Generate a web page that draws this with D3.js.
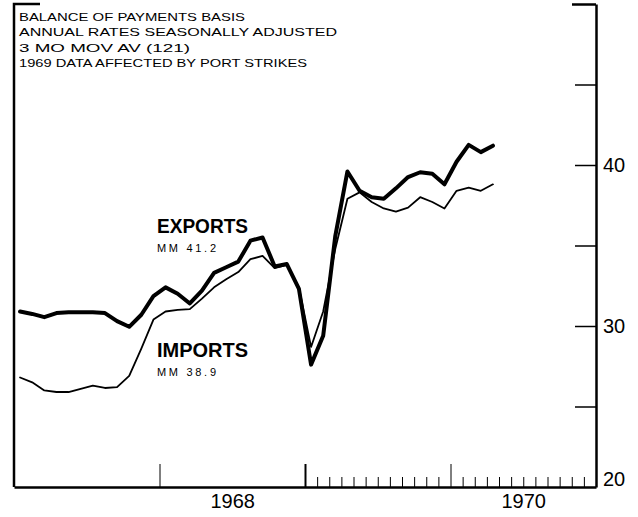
<!DOCTYPE html>
<meta charset="utf-8">
<style>
body { margin: 0; background: #fff; }
text { font-family: 'Liberation Sans', Arial, sans-serif; fill: #000; }
.axis path, .axis line { stroke: #000; }
.line { fill: none; stroke: #000; stroke-linejoin: round; stroke-linecap: round; }
</style>
<body>
<svg width="638" height="517"></svg>
<script src="https://cdnjs.cloudflare.com/ajax/libs/d3/7.8.5/d3.min.js"></script>
<script>

// monthly values, Jan 1967 .. Apr 1970 ($ billions, annual rate)
var exportsVals = [30.9, 30.75, 30.55, 30.8, 30.85, 30.85, 30.85, 30.8, 30.3, 29.95, 30.7, 31.85,
                   32.4, 32.0, 31.4, 32.2, 33.3, 33.65, 34.0, 35.3, 35.5, 33.7, 33.85, 32.3,
                   27.6, 29.4, 35.6, 39.6, 38.4, 38.0, 37.9, 38.55, 39.25, 39.55, 39.45, 38.8,
                   40.2, 41.25, 40.8, 41.2];
var importsVals = [26.8, 26.5, 26.0, 25.9, 25.9, 26.1, 26.3, 26.15, 26.2, 26.9, 28.6, 30.4,
                   30.9, 31.0, 31.05, 31.7, 32.4, 32.9, 33.35, 34.15, 34.35, 33.6, 33.8, 32.4,
                   28.7, 30.9, 34.8, 37.9, 38.3, 37.7, 37.3, 37.1, 37.35, 38.0, 37.7, 37.3,
                   38.4, 38.6, 38.4, 38.8];

// x axis is in months counted from Jan 1967
var yearTicks = [12, 24, 36];
var monthTicks = [25, 26, 27, 28, 29, 30, 31, 32, 33, 34, 35, 37, 38, 39, 40, 41, 42, 43, 44, 45, 46, 47];
var yearLabels = ["1968", "1970"];
var yearLabelAt = [18, 42];

var yTicks = [25, 30, 35, 40, 45, 50];
var yLabels = [20, 30, 40];

var headerLines = ["BALANCE OF PAYMENTS BASIS",
                   "ANNUAL RATES SEASONALLY ADJUSTED",
                   "3 MO MOV AV (121)",
                   "1969 DATA AFFECTED BY PORT STRIKES"];

var svg = d3.select("svg");

//plot box edges (don't call it "top", window.top is taken)
var plotL = 14, plotR = 596, plotT = 4, plotB = 487;

var x = d3.scaleLinear().domain([0, 48]).range([plotL, plotR]);
var y = d3.scaleLinear().domain([20, 50]).range([plotB, plotT]);

//frame: left edge and the little corner bit at top
svg.append("path")
    .attr("d", "M" + (plotL + 26) + "," + plotT + "H" + plotL + "V" + plotB)
    .attr("fill", "none")
    .attr("stroke", "#000")
    .attr("stroke-width", 2.5);

//right value axis, ticks point inwards
var yAxis = svg.append("g")
    .attr("class", "axis")
    .attr("transform", "translate(" + plotR + ",0)")
    .call(d3.axisRight(y)
        .tickValues(yTicks)
        .tickSize(-21)
        .tickSizeOuter(0)
        .tickFormat(""));
yAxis.select(".domain").attr("stroke-width", 2.5);
yAxis.selectAll(".tick line").attr("stroke-width", 1.5);
yAxis.selectAll(".tick").filter(function(d) { return d == 50; })
    .select("line").attr("x2", -24).attr("stroke-width", 2.5);

var yLab = svg.append("g")
    .attr("transform", "translate(" + plotR + ",0)")
    .call(d3.axisRight(y)
        .tickValues(yLabels)
        .tickSize(0)
        .tickPadding(7));
yLab.select(".domain").remove();
yLab.selectAll("text")
    .attr("font-family", "'Liberation Sans', Arial, sans-serif")
    .attr("font-size", 20)
    .attr("dy", function(d) { return d == 20 ? "-0.1em" : "0.32em"; });

//bottom time axis
var xMonth = svg.append("g")
    .attr("class", "axis")
    .attr("transform", "translate(0," + plotB + ")")
    .call(d3.axisBottom(x)
        .tickValues(monthTicks)
        .tickSize(-10)
        .tickSizeOuter(0)
        .tickFormat(""));
xMonth.select(".domain").attr("stroke-width", 2.5);
xMonth.selectAll(".tick line").attr("stroke-width", 1);

var xYear = svg.append("g")
    .attr("class", "axis")
    .attr("transform", "translate(0," + plotB + ")")
    .call(d3.axisBottom(x)
        .tickValues(yearTicks)
        .tickSize(-23)
        .tickFormat(""));
xYear.select(".domain").remove();
xYear.selectAll(".tick line").attr("stroke-width", function(d) { return d == 24 ? 2 : 1; });

var xLab = svg.append("g")
    .attr("transform", "translate(0," + plotB + ")")
    .call(d3.axisBottom(x)
        .tickValues(yearLabelAt)
        .tickSize(0)
        .tickPadding(7)
        .tickFormat(function(d, i) { return yearLabels[i]; }));
xLab.select(".domain").remove();
xLab.selectAll("text")
    .attr("font-family", "'Liberation Sans', Arial, sans-serif")
    .attr("font-size", 20);

//the two series, points sit mid-month
var line = d3.line()
    .x(function(d, i) { return x(i + 0.5); })
    .y(function(d) { return y(d); });

svg.append("path")
    .attr("class", "line")
    .attr("d", line(importsVals))
    .attr("stroke-width", 1.8);

svg.append("path")
    .attr("class", "line")
    .attr("d", line(exportsVals))
    .attr("stroke-width", 4);

//header notes
svg.append("g").selectAll("text")
    .data(headerLines)
  .enter().append("text")
    .attr("x", 19)
    .attr("y", function(d, i) { return 21 + i * 15.4; })
    .attr("font-size", 11)
    .attr("textLength", function(d, i) { return [226, 318, 171, 288][i]; })
    .attr("lengthAdjust", "spacingAndGlyphs")
    .text(function(d) { return d; });

//series labels
var labels = [
  {name: "EXPORTS", note: "MM 41.2", y: 233},
  {name: "IMPORTS", note: "MM 38.9", y: 357}
];

labels.forEach(function(l) {
  svg.append("text")
      .attr("x", 157)
      .attr("y", l.y)
      .attr("font-size", 21)
      .attr("font-weight", "bold")
      .attr("textLength", 91)
      .attr("lengthAdjust", "spacingAndGlyphs")
      .text(l.name);
  svg.append("text")
      .attr("x", 157)
      .attr("y", l.y + 19)
      .attr("font-size", 11)
      .attr("textLength", 59)
      .attr("lengthAdjust", "spacing")
      .text(l.note);
});

</script>
</body>
